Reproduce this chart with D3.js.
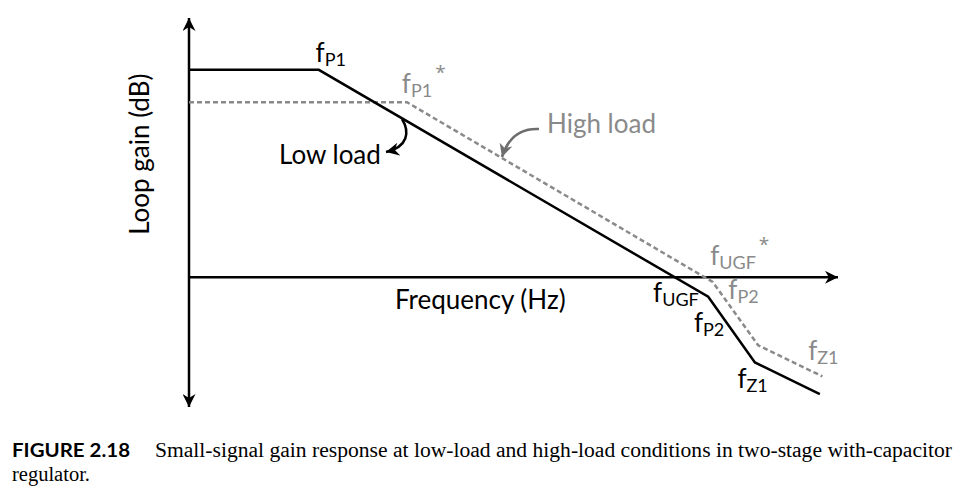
<!DOCTYPE html>
<html>
<head>
<meta charset="utf-8">
<script src="https://cdn.jsdelivr.net/npm/d3@7"></script>
<style>
  body { margin: 0; background: #fff; }
  svg { display: block; }
  text { font-family: Lato, "Open Sans", sans-serif; }
</style>
</head>
<body>
<div id="chart"></div>
<script>
// asymptotic Bode plot, in abstract units (x: log-frequency, y: gain)
let lowLoad = [[0, 80], [20, 80], [80, -7.5], [87.2, -32.8], [97.2, -45]];
let highLoad = [[0, 67.5], [33.6, 67.5], [80.7, -1.8], [87.7, -26.2], [97.6, -38.2]];

// pole / zero labels: [x, y, sub, star, series]
let labels = [
  [19.5, 83, 'P1', false, 'low'],
  [32.8, 71, 'P1', true, 'high'],
  [80.3, 4.8, 'UGF', true, 'high'],
  [71.5, -9.5, 'UGF', false, 'low'],
  [83.1, -8.5, 'P2', false, 'high'],
  [77.8, -21.2, 'P2', false, 'low'],
  [95.4, -31.8, 'Z1', false, 'high'],
  [84.5, -42.5, 'Z1', false, 'low']
];

let width = 969, height = 491;
let gray = '#8a8a8a';

let svg = d3.select('#chart').append('svg')
  .attr('width', width)
  .attr('height', height);

let x = d3.scaleLinear().domain([0, 100]).range([189, 838]);
let y = d3.scaleLinear().domain([-50, 100]).range([407, 18]);

let defs = svg.append('defs');
function marker(id, color, w, h) {
  defs.append('marker')
    .attr('id', id)
    .attr('viewBox', '0 0 10 10')
    .attr('refX', 10).attr('refY', 5)
    .attr('markerUnits', 'userSpaceOnUse')
    .attr('markerWidth', w).attr('markerHeight', h)
    .attr('orient', 'auto-start-reverse')
    .append('path')
    .attr('d', 'M0,0 L10,5 L0,10 L3,5 z')
    .attr('fill', color);
}
marker('ax', '#000', 16, 13);
marker('blk', '#000', 14, 13);
marker('gry', '#6e6e6e', 14, 13);

// axes
svg.append('line')
  .attr('x1', x(0)).attr('x2', x(0))
  .attr('y1', y(-50)).attr('y2', y(100))
  .attr('stroke', '#000').attr('stroke-width', 2.5)
  .attr('marker-start', 'url(#ax)')
  .attr('marker-end', 'url(#ax)');

svg.append('line')
  .attr('x1', x(0)).attr('x2', x(100))
  .attr('y1', y(0)).attr('y2', y(0))
  .attr('stroke', '#000').attr('stroke-width', 2.5)
  .attr('marker-end', 'url(#ax)');

let line = d3.line().x(d => x(d[0])).y(d => y(d[1]));

svg.append('path')
  .attr('d', line(highLoad))
  .attr('fill', 'none')
  .attr('stroke', gray)
  .attr('stroke-width', 2.5)
  .attr('stroke-dasharray', '5,3');

svg.append('path')
  .attr('d', line(lowLoad))
  .attr('fill', 'none')
  .attr('stroke', '#000')
  .attr('stroke-width', 2.5);

// axis titles
svg.append('text')
  .attr('transform', `translate(${x(0) - 40},${y(47.5)}) rotate(-90)`)
  .attr('text-anchor', 'middle')
  .attr('font-size', 26)
  .text('Loop gain (dB)');

svg.append('text')
  .attr('x', 395).attr('y', y(-12.2))
  .attr('font-size', 26)
  .text('Frequency (Hz)');

// f labels
labels.forEach(d => {
  let t = svg.append('text')
    .attr('x', x(d[0])).attr('y', y(d[1]))
    .attr('font-size', 26)
    .attr('fill', d[4] === 'low' ? '#000' : gray);
  t.append('tspan').text('f');
  t.append('tspan').attr('font-size', 18).attr('dy', 4).text(d[2]);
  if (d[3]) t.append('tspan')
    .style('font-family', '"Open Sans", sans-serif')
    .attr('font-size', 19).attr('dx', 3).attr('dy', -18).text('*');
});

// annotations
svg.append('text')
  .attr('x', 279).attr('y', 164)
  .attr('font-size', 26)
  .text('Low load');

svg.append('path')
  .attr('d', 'M402,119 C410,132 408,147 386,152')
  .attr('fill', 'none').attr('stroke', '#000').attr('stroke-width', 2.5)
  .attr('marker-end', 'url(#blk)');

svg.append('text')
  .attr('x', 547).attr('y', 133)
  .attr('font-size', 26)
  .attr('fill', gray)
  .text('High load');

svg.append('path')
  .attr('d', 'M539,129 C520,128 508,138 502,157')
  .attr('fill', 'none').attr('stroke', '#6e6e6e').attr('stroke-width', 2.5)
  .attr('marker-end', 'url(#gry)');

// caption
svg.append('text')
  .attr('x', 12).attr('y', 457)
  .attr('font-size', 18).attr('font-weight', 'bold')
  .attr('textLength', 118).attr('lengthAdjust', 'spacingAndGlyphs')
  .text('FIGURE 2.18');

svg.append('text')
  .attr('x', 155).attr('y', 457)
  .attr('font-size', 20)
  .style('font-family', '"Liberation Serif", "Times New Roman", serif')
  .attr('textLength', 797).attr('lengthAdjust', 'spacingAndGlyphs')
  .text('Small-signal gain response at low-load and high-load conditions in two-stage with-capacitor');

svg.append('text')
  .attr('x', 12).attr('y', 481)
  .attr('font-size', 20)
  .style('font-family', '"Liberation Serif", "Times New Roman", serif')
  .attr('textLength', 78).attr('lengthAdjust', 'spacingAndGlyphs')
  .text('regulator.');
</script>
</body>
</html>
